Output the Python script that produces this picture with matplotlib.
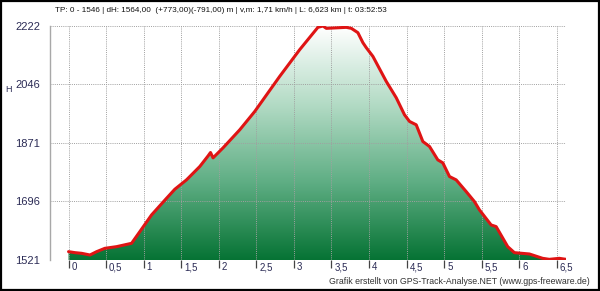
import numpy as np
import matplotlib
matplotlib.use("Agg")
import matplotlib.pyplot as plt
import matplotlib.colors as mcolors
import matplotlib.transforms as mtrans
from matplotlib.patches import Rectangle

plt.rcParams["font.family"] = ["Liberation Sans", "DejaVu Sans"]

# elevation profile (km, m)
dist_km = [0.0, 0.085, 0.174, 0.285, 0.374, 0.484, 0.640, 0.839, 0.949, 1.105,
           1.305, 1.415, 1.570, 1.747, 1.858, 1.890, 1.924, 2.057, 2.279, 2.479,
           2.811, 3.077, 3.320, 3.387, 3.432, 3.698, 3.765, 3.852, 3.919, 3.964,
           4.052, 4.230, 4.363, 4.473, 4.540, 4.629, 4.717, 4.806, 4.916, 4.983,
           5.072, 5.161, 5.294, 5.404, 5.471, 5.626, 5.693, 5.847, 5.936, 6.136,
           6.312, 6.401, 6.534, 6.623]
elev_m = [1546, 1543, 1541, 1536, 1546, 1556, 1561, 1571, 1606, 1656,
          1706, 1733, 1761, 1801, 1833, 1843, 1827, 1857, 1911, 1966,
          2071, 2151, 2218, 2222, 2215, 2218, 2215, 2202, 2172, 2157,
          2131, 2056, 2007, 1956, 1936, 1926, 1876, 1861, 1821, 1812,
          1771, 1761, 1726, 1696, 1671, 1626, 1621, 1561, 1543, 1539,
          1526, 1523, 1526, 1523]

x_ticks = [0, 0.5, 1, 1.5, 2, 2.5, 3, 3.5, 4, 4.5, 5, 5.5, 6, 6.5]
x_tick_labels = ["0", "0,5", "1", "1,5", "2", "2,5", "3", "3,5", "4", "4,5",
                 "5", "5,5", "6", "6,5"]
y_min, y_max = 1521, 2222

title_txt = ("TP: 0 - 1546 | dH: 1564,00  (+773,00)(-791,00) m | v,m: 1,71 km/h | "
             "L: 6,623 km | t: 03:52:53")
footer_txt = "Grafik erstellt von GPS-Track-Analyse.NET (www.gps-freeware.de)"

fig = plt.figure(figsize=(6, 2.91), dpi=100)
fig.patch.set_facecolor("white")
ax = fig.add_axes([50 / 600, 31 / 291, 516 / 600, 234 / 291])
x_lo, x_hi = -0.247, 6.623
ax.set_xlim(x_lo, x_hi)
ax.set_ylim(y_min, y_max)

# green gradient fill, clipped to the area under the profile
fill = ax.fill_between(dist_km, elev_m, y_min, facecolor="none", edgecolor="none")
cmap = mcolors.LinearSegmentedColormap.from_list(
    "grn", ["#067334", "#5fae84", "#b3dbc5", "#ffffff"])
grad = np.linspace(0, 1, 256).reshape(-1, 1)
img = ax.imshow(grad, cmap=cmap, origin="lower", aspect="auto",
                extent=[x_lo, x_hi, y_min, y_max], zorder=1)
img.set_clip_path(fill.get_paths()[0], transform=ax.transData)

# dotted grid over the fill
y_grid = np.linspace(y_min, y_max, 5)
for yv in y_grid:
    ax.axhline(yv, color="#a0a0a0", lw=0.7, ls=(0, (1, 1.2)), zorder=2)
for xv in x_ticks:
    ax.axvline(xv, color="#a0a0a0", lw=0.7, ls=(0, (1, 1.2)), zorder=2)

ax.plot(dist_km, elev_m, color="#df1414", lw=2.2, zorder=3,
        solid_joinstyle="round", solid_capstyle="round")

for s in ["top", "right", "bottom"]:
    ax.spines[s].set_visible(False)
ax.spines["left"].set_color("#a8a8a8")
ax.spines["left"].set_linewidth(1.0)

ax.set_yticks(y_grid)
ax.set_yticklabels([str(int(v)) for v in y_grid], fontsize=8, color="#2b2b55")
ax.tick_params(axis="y", length=0, pad=7)

ax.set_xticks(x_ticks)
ax.set_xticklabels([])
ax.tick_params(axis="x", direction="out", length=6, width=0.9, color="#444444")
off = mtrans.ScaledTranslation(3 / 100, -2 / 100, fig.dpi_scale_trans)
for xv, lab in zip(x_ticks, x_tick_labels):
    ax.text(xv, 0, lab, transform=ax.get_xaxis_transform() + off,
            ha="left", va="top", fontsize=7, color="#2b2b55")

fig.text(55 / 600, 1 - 10 / 291, title_txt, fontsize=5.9, color="#111111",
         ha="left", va="center")
fig.text(8 / 600, 1 - 89 / 291, "H", fontsize=6.5, color="#2b2b55",
         ha="center", va="center")
fig.text(590 / 600, 1 - 281 / 291, footer_txt, fontsize=6.3, color="#333333",
         ha="right", va="center")

fig.add_artist(Rectangle((0.0015, 0.003), 0.997, 0.994, transform=fig.transFigure,
                         fill=False, edgecolor="black", lw=1.6))

fig.savefig("out.png", dpi=100)
